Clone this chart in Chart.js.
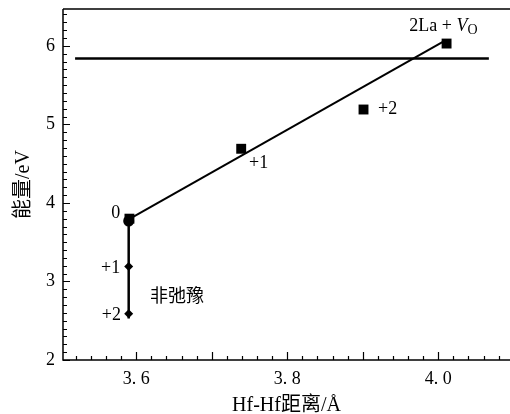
<!DOCTYPE html>
<html>
<head>
<meta charset="utf-8">
<script src="https://cdn.jsdelivr.net/npm/chart.js@4.4.0/dist/chart.umd.min.js"></script>
<style>
html, body { margin: 0; padding: 0; background: #fff; }
#wrap { width: 510px; height: 414px; }
</style>
</head>
<body>
<div id="wrap"><canvas id="energyChart"></canvas></div>
<script>
// values (x: Hf-Hf distance in Å, y: energy in eV)
var relaxedLine = [{x: 3.59, y: 3.79}, {x: 4.006, y: 6.05}]
var refLine = [{x: 3.519, y: 5.84}, {x: 4.067, y: 5.84}]
var unrelaxedLine = [{x: 3.59, y: 3.79}, {x: 3.59, y: 2.53}]
var relaxedPts = [{x: 3.591, y: 3.80}, {x: 3.739, y: 4.69}, {x: 3.901, y: 5.19}, {x: 4.011, y: 6.03}]
var zeroPt = [{x: 3.590, y: 3.77}]
var unrelaxedPts = [{x: 3.590, y: 3.19}, {x: 3.590, y: 2.59}]

var xTicks = [3.6, 3.8, 4.0]
var xTickLabels = ['3. 6', '3. 8', '4. 0']
var yTicks = [2, 3, 4, 5, 6]
var yTickLabels = ['2', '3', '4', '5', '6']

// annotations: text and the data point they sit at
var noteTexts = ['0', '+1', '+2', '+1', '+2', '非弛豫']
var noteX = [3.573, 3.566, 3.567, 3.762, 3.933, 3.654]
var noteY = [3.865, 3.17, 2.57, 4.51, 5.19, 2.82]

var serif = "'Liberation Serif', 'DejaVu Serif', serif"
var cjk = "'Liberation Serif', 'Noto Sans CJK SC', serif"

var frame = {
    id: 'frame',
    afterDatasetsDraw: function(chart) {
        var ctx = chart.ctx, a = chart.chartArea
        var xs = chart.scales.x, ys = chart.scales.y
        ctx.save()
        ctx.strokeStyle = '#000'
        ctx.lineWidth = 1.5
        ctx.beginPath()
        ctx.moveTo(a.left, a.top); ctx.lineTo(a.right + 2, a.top)
        ctx.moveTo(a.left, a.top); ctx.lineTo(a.left, a.bottom); ctx.lineTo(a.right + 2, a.bottom)
        ctx.stroke()
        // inward ticks
        ctx.lineWidth = 1.2
        ctx.beginPath()
        for (var k = 176; k <= 205; k++) {
            var px = Math.round(xs.getPixelForValue(k / 50)) + 0.5
            var len = (k % 5 == 0) ? 8 : 4
            ctx.moveTo(px, a.bottom); ctx.lineTo(px, a.bottom - len)
        }
        for (var j = 20; j <= 64; j++) {
            var py = Math.round(ys.getPixelForValue(j / 10)) + 0.5
            var l2 = (j % 10 == 0) ? 7 : 4
            ctx.moveTo(a.left, py); ctx.lineTo(a.left + l2, py)
        }
        ctx.stroke()

        // labels
        ctx.fillStyle = '#000'
        ctx.textBaseline = 'middle'
        ctx.textAlign = 'center'
        for (var i = 0; i < noteTexts.length; i++) {
            ctx.font = (noteTexts[i] == '非弛豫' ? "18px 'Noto Sans CJK SC'" : '18px ' + serif)
            ctx.fillText(noteTexts[i], xs.getPixelForValue(noteX[i]), ys.getPixelForValue(noteY[i]))
        }
        // 2La + V_O
        var tx = xs.getPixelForValue(3.9616), ty = ys.getPixelForValue(6.245)
        ctx.textAlign = 'left'
        ctx.font = '18px ' + serif
        ctx.fillText('2La + ', tx, ty)
        tx += ctx.measureText('2La + ').width
        ctx.font = 'italic 18px ' + serif
        ctx.fillText('V', tx, ty)
        tx += ctx.measureText('V').width
        ctx.font = '14px ' + serif
        ctx.fillText('O', tx, ty + 4)
        ctx.restore()
    }
}

new Chart(document.getElementById('energyChart'), {
    type: 'scatter',
    data: {
        datasets: [
            {data: refLine, showLine: true, borderColor: '#000', borderWidth: 2.5, pointRadius: 0},
            {data: relaxedLine, showLine: true, borderColor: '#000', borderWidth: 2, pointRadius: 0},
            {data: unrelaxedLine, showLine: true, borderColor: '#000', borderWidth: 2.5, pointRadius: 0},
            {data: relaxedPts, pointStyle: 'rect', pointRadius: 7, backgroundColor: '#000', borderColor: '#000', borderWidth: 0},
            {data: zeroPt, pointStyle: 'circle', pointRadius: 5.5, backgroundColor: '#000', borderColor: '#000', borderWidth: 0},
            {data: unrelaxedPts, pointStyle: 'rectRot', pointRadius: 4.5, backgroundColor: '#000', borderColor: '#000', borderWidth: 0}
        ]
    },
    options: {
        responsive: true,
        maintainAspectRatio: false,
        animation: false,
        layout: {autoPadding: false, padding: {top: 9, right: 0, left: 0, bottom: 0}},
        plugins: {legend: {display: false}, tooltip: {enabled: false}},
        scales: {
            x: {
                type: 'linear', min: 3.503, max: 4.095,
                border: {display: false},
                grid: {display: false, drawTicks: false},
                afterBuildTicks: function(s) { s.ticks = xTicks.map(function(v) { return {value: v} }) },
                afterFit: function(s) { s.height = 54; s.paddingLeft = 0; s.paddingRight = 0 },
                ticks: {
                    padding: 8, color: '#000', maxRotation: 0,
                    font: {family: serif, size: 18},
                    callback: function(v) { return xTickLabels[xTicks.indexOf(v)] }
                },
                title: {display: true, text: 'Hf-Hf距离/Å', color: '#000', font: {family: cjk, size: 20, lineHeight: 0.8}, padding: {top: 0, bottom: 0}}
            },
            y: {
                type: 'linear', min: 2, max: 6.47,
                border: {display: false},
                grid: {display: false, drawTicks: false},
                afterBuildTicks: function(s) { s.ticks = yTicks.map(function(v) { return {value: v} }) },
                afterFit: function(s) { s.width = 63; s.paddingTop = 0; s.paddingBottom = 0 },
                ticks: {
                    padding: 8, color: '#000',
                    font: {family: serif, size: 18},
                    callback: function(v) { return yTickLabels[yTicks.indexOf(v)] }
                },
                title: {display: true, text: '能量/eV', color: '#000', font: {family: cjk, size: 20}, padding: {top: 12, bottom: 0}}
            }
        }
    },
    plugins: [frame]
})
</script>
</body>
</html>
